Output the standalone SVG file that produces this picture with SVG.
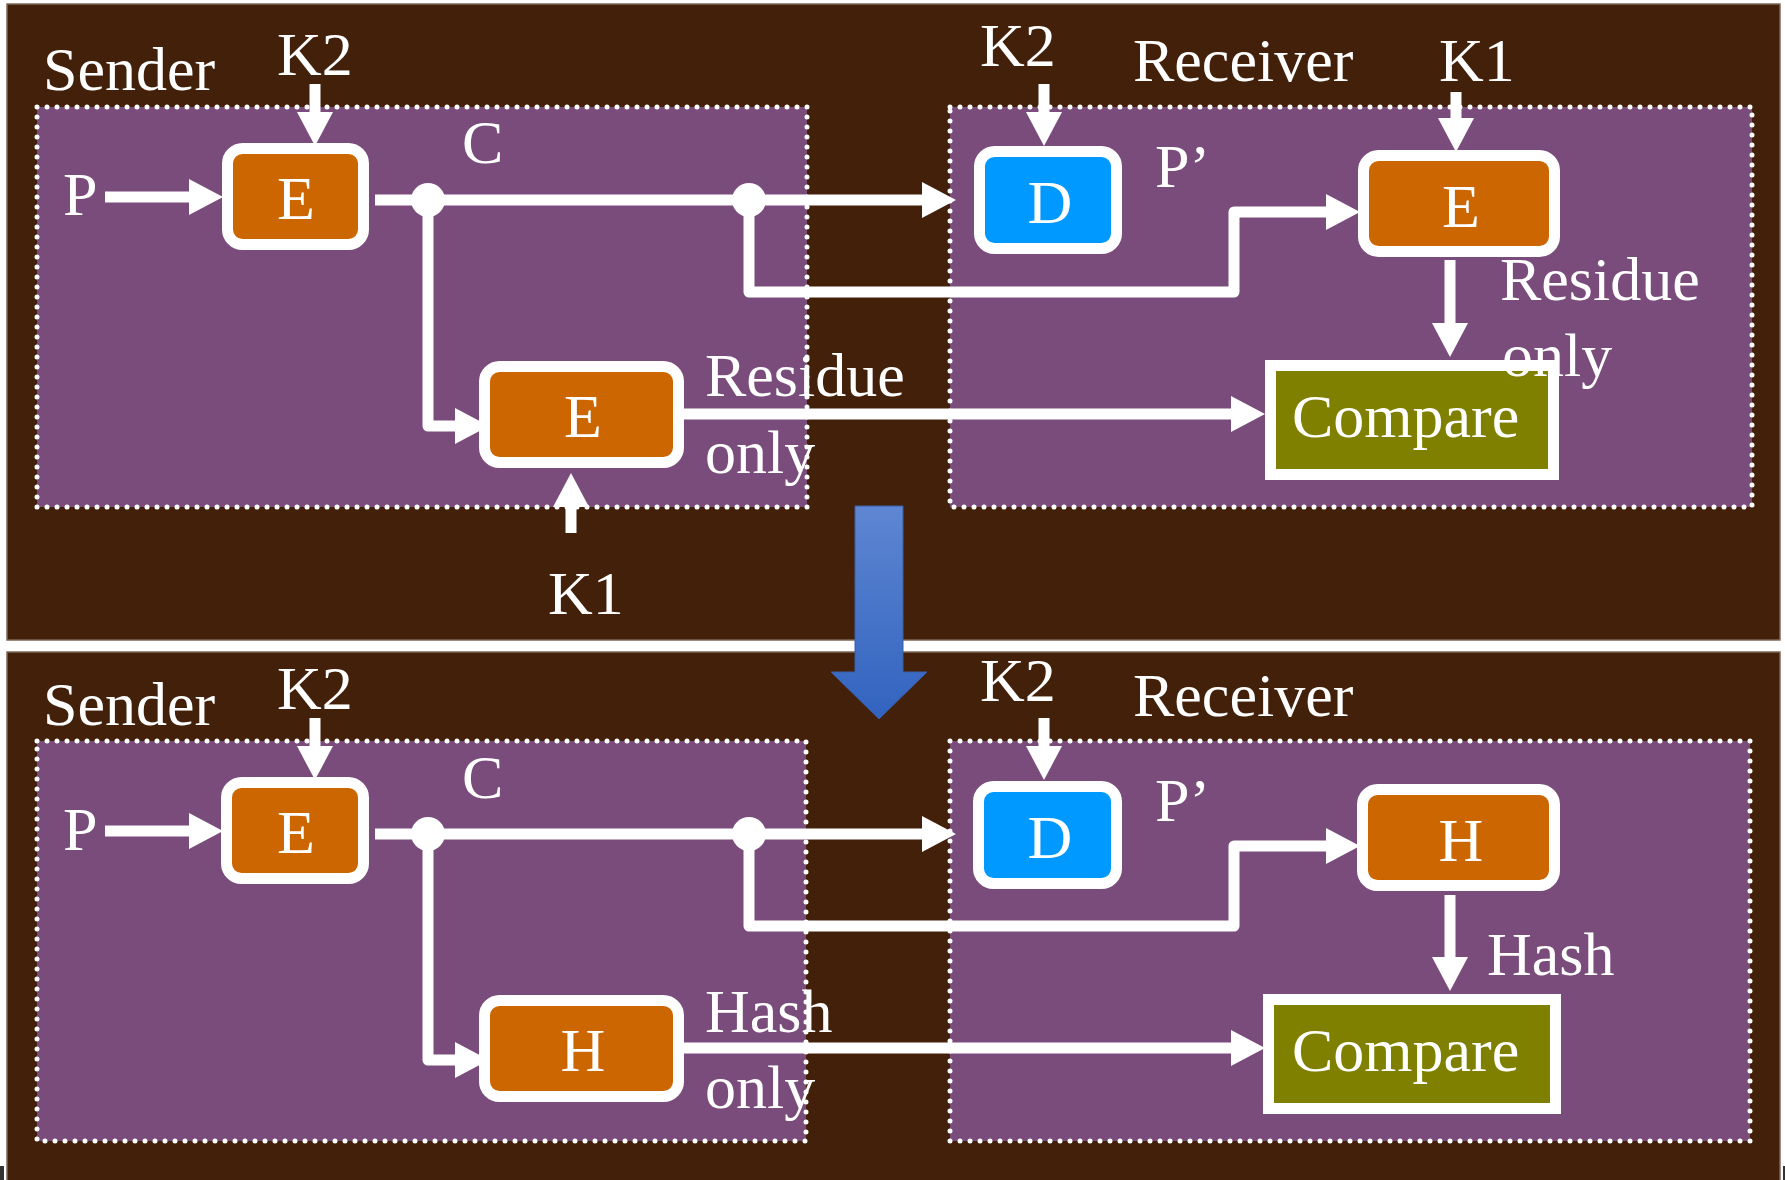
<svg xmlns="http://www.w3.org/2000/svg" width="1785" height="1180" viewBox="0 0 1785 1180">
<defs>
<style>
.panel{fill:#42200A;stroke:#7d6a58;stroke-width:1.5}
.zone{fill:#7A4C7B;stroke:#fff;stroke-width:5;stroke-dasharray:0 10;stroke-linecap:round}
.blk{stroke:#fff;stroke-width:11}
.or{fill:#CC6600}
.bl{fill:#0099FF}
.ol{fill:#808000}
.t{font-family:"Liberation Serif","Times New Roman",serif;font-size:62px;fill:#fff}
.c{text-anchor:middle}
.ln{fill:none;stroke:#fff;stroke-width:11;stroke-linejoin:round}
.dot{fill:#fff}
</style>
<marker id="ah" markerUnits="userSpaceOnUse" markerWidth="34" markerHeight="36" viewBox="0 0 34 36" refX="0" refY="18" orient="auto">
<path d="M0,0 L34,18 L0,36 Z" fill="#fff"/>
</marker>
<linearGradient id="bg" x1="0" y1="0" x2="0" y2="1">
<stop offset="0" stop-color="#5E86D2"/>
<stop offset="1" stop-color="#3163BF"/>
</linearGradient>
</defs>
<rect x="0" y="0" width="1785" height="1180" fill="#fff"/>
<rect class="panel" x="7" y="4" width="1773" height="636"/>
<rect class="panel" x="7" y="652" width="1773" height="540"/>
<rect x="0" y="1166" width="4" height="14" fill="#333"/>
<rect x="1783" y="1166" width="2" height="14" fill="#333"/>

<g id="sender-zone-1"><rect class="zone" x="37" y="107" width="770" height="400"/></g>
<g id="receiver-zone-1"><rect class="zone" x="950" y="107" width="802" height="400"/></g>
<g id="sender-zone-2"><rect class="zone" x="37" y="741" width="769" height="400"/></g>
<g id="receiver-zone-2"><rect class="zone" x="950" y="741" width="800" height="400"/></g>

<g id="labels">
<text class="t" x="43" y="90">Sender</text>
<text class="t" x="277" y="75">K2</text>
<text class="t" x="462" y="163">C</text>
<text class="t" x="63" y="215">P</text>
<text class="t" x="548" y="614">K1</text>
<text class="t" x="980" y="66">K2</text>
<text class="t" x="1133" y="81">Receiver</text>
<text class="t" x="1439" y="81">K1</text>
<text class="t" x="1155" y="187">P’</text>
<text class="t" x="43" y="725">Sender</text>
<text class="t" x="277" y="709">K2</text>
<text class="t" x="462" y="798">C</text>
<text class="t" x="63" y="850">P</text>
<text class="t" x="980" y="701">K2</text>
<text class="t" x="1133" y="716">Receiver</text>
<text class="t" x="1155" y="821">P’</text>
</g>

<g id="connectors">
<path class="ln" d="M105,197 H189" marker-end="url(#ah)"/>
<path class="ln" d="M315,84 V112" marker-end="url(#ah)"/>
<path class="ln" d="M375,200 H922" marker-end="url(#ah)"/>
<path class="ln" d="M428,200 V426 H455" marker-end="url(#ah)"/>
<path class="ln" d="M571,533 V507" marker-end="url(#ah)"/>
<path class="ln" d="M684,414 H1231" marker-end="url(#ah)"/>
<path class="ln" d="M749,200 V292 H1234 V212 H1326" marker-end="url(#ah)"/>
<path class="ln" d="M1044,84 V112" marker-end="url(#ah)"/>
<path class="ln" d="M1456,92 V118" marker-end="url(#ah)"/>
<path class="ln" d="M1450,260 V323" marker-end="url(#ah)"/>
<circle class="dot" cx="428" cy="200" r="17"/>
<circle class="dot" cx="749" cy="200" r="17"/>

<path class="ln" d="M105,831 H189" marker-end="url(#ah)"/>
<path class="ln" d="M315,718 V746" marker-end="url(#ah)"/>
<path class="ln" d="M375,834 H922" marker-end="url(#ah)"/>
<path class="ln" d="M428,834 V1060 H455" marker-end="url(#ah)"/>
<path class="ln" d="M684,1048 H1231" marker-end="url(#ah)"/>
<path class="ln" d="M749,834 V926 H1234 V846 H1326" marker-end="url(#ah)"/>
<path class="ln" d="M1044,718 V746" marker-end="url(#ah)"/>
<path class="ln" d="M1450,895 V957" marker-end="url(#ah)"/>
<circle class="dot" cx="428" cy="834" r="17"/>
<circle class="dot" cx="749" cy="834" r="17"/>
</g>

<g id="E-sender-1"><rect class="blk or" x="227.5" y="148.5" width="136" height="96" rx="15"/><text class="t c" x="296" y="219">E</text></g>
<g id="E-sender-2"><rect class="blk or" x="484.5" y="366.5" width="194" height="96" rx="15"/><text class="t c" x="583" y="437">E</text></g>
<g id="residue-label-1"><text class="t" x="705" y="396">Residue</text><text class="t" x="705" y="473">only</text></g>
<g id="D-1"><rect class="blk bl" x="979.5" y="151.5" width="137" height="97" rx="15"/><text class="t c" x="1050" y="223">D</text></g>
<g id="E-receiver-1"><rect class="blk or" x="1363.5" y="155.5" width="191" height="96" rx="15"/><text class="t c" x="1461" y="227">E</text></g>
<g id="compare-1"><rect class="blk ol" x="1270.5" y="365.5" width="283" height="109"/><text class="t" x="1292" y="437">Compare</text></g>
<g id="residue-label-2"><text class="t" x="1500" y="300">Residue</text><text class="t" x="1502" y="376">only</text></g>

<g id="E-sender-3"><rect class="blk or" x="226.5" y="782.5" width="137" height="96" rx="15"/><text class="t c" x="296" y="853">E</text></g>
<g id="H-sender"><rect class="blk or" x="484.5" y="1000.5" width="194" height="96" rx="15"/><text class="t c" x="583" y="1071">H</text></g>
<g id="hash-label-1"><text class="t" x="705" y="1032">Hash</text><text class="t" x="705" y="1108">only</text></g>
<g id="D-2"><rect class="blk bl" x="978.5" y="786.5" width="138" height="97" rx="15"/><text class="t c" x="1050" y="858">D</text></g>
<g id="H-receiver"><rect class="blk or" x="1362.5" y="789.5" width="192" height="96" rx="15"/><text class="t c" x="1461" y="861">H</text></g>
<g id="hash-label-2"><text class="t" x="1487" y="975">Hash</text></g>
<g id="compare-2"><rect class="blk ol" x="1268.5" y="999.5" width="287" height="109"/><text class="t" x="1292" y="1071">Compare</text></g>

<g id="transition-arrow"><polygon points="855,506 903,506 903,672 927,672 879,719 831,672 855,672" fill="url(#bg)" stroke="#3A5EA6" stroke-width="1"/></g>
</svg>
